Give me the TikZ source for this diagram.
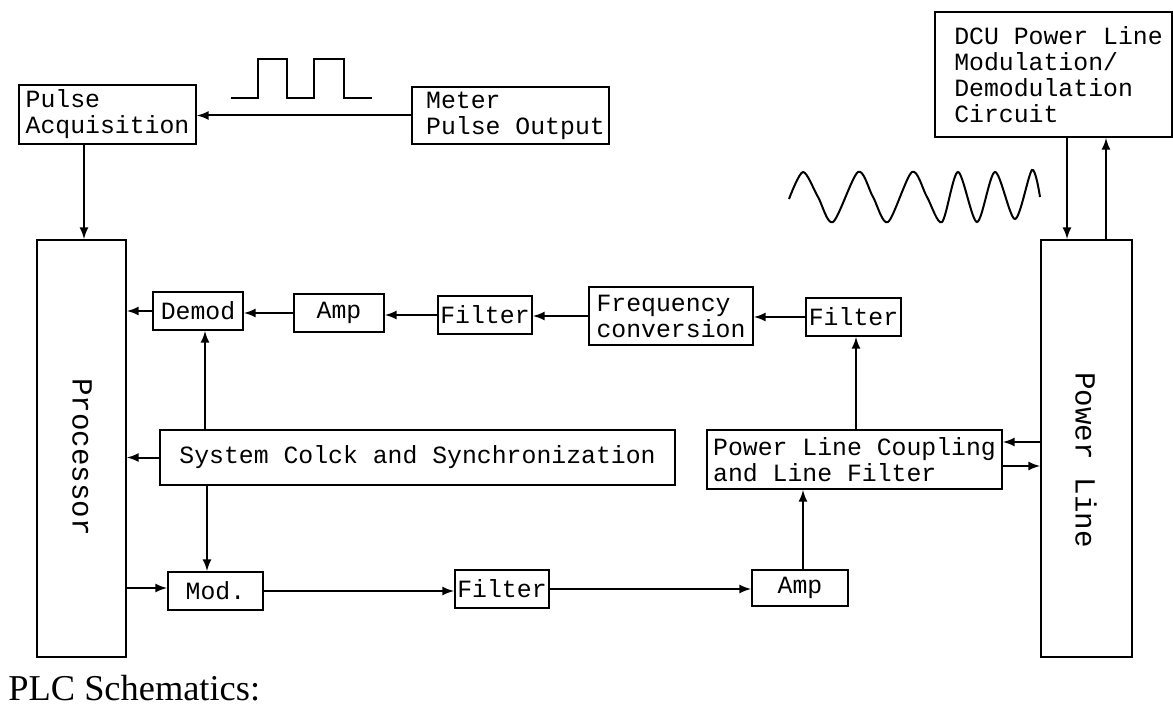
\documentclass[tikz,border=0pt]{standalone}
\usepackage{fontspec}
\setmainfont{Liberation Serif}
\newfontfamily\boxfont{Liberation Mono}
\tikzstyle{plc-box} = [draw=black, line width=1pt, rectangle, inner sep=0pt,
    align=left, font=\boxfont\fontsize{12.4}{13}\selectfont]
\tikzstyle{plc-side} = [font=\boxfont\fontsize{14.6}{15}\selectfont, rotate=-90]
\tikzstyle{plc-link} = [draw=black, line width=1pt, -latex]
\tikzstyle{plc-wave} = [draw=black, line width=1pt]
\newcommand{\nudge}{\hspace*{5pt}}

\begin{document}
\begin{tikzpicture}[x=0.5pt,y=-0.5pt]
\useasboundingbox (0,0) rectangle (1173,706);
% top row
\node [plc-box,minimum width=88.5pt,minimum height=29.5pt] (acq) at (107.5,114.5) {Pulse\\Acquisition};
\node [plc-box,minimum width=98.5pt,minimum height=28.5pt] (meter) at (510.5,115.5) {\nudge Meter\\\nudge Pulse Output};
\node [plc-box,minimum width=118.5pt,minimum height=62.5pt] (dcu) at (1053.5,74.5) {\nudge DCU Power Line\\\nudge Modulation/\\\nudge Demodulation\\\nudge Circuit};
% tall blocks
\node [plc-box,minimum width=44.5pt,minimum height=208.5pt] (proc) at (81.5,448.5) {};
\node [plc-box,minimum width=45.5pt,minimum height=208.5pt] (line) at (1086.5,448.5) {};
\node [plc-side] (proctext) at (82,457) {Processor};
\node [plc-side] (linetext) at (1086,460) {Power Line};
% receive path
\node [plc-box,minimum width=45pt,minimum height=19pt] (demod) at (198,311) {Demod};
\node [plc-box,minimum width=45pt,minimum height=19pt] (rxamp) at (339,313) {Amp};
\node [plc-box,minimum width=47pt,minimum height=19pt] (rxfilter) at (485,315) {Filter};
\node [plc-box,minimum width=82pt,minimum height=29pt] (freq) at (671,316) {Frequency\\conversion};
\node [plc-box,minimum width=47.5pt,minimum height=19pt] (linefilter) at (853.5,317) {Filter};
% middle row
\node [plc-box,minimum width=257.5pt,minimum height=27.5pt] (clock) at (417.5,457.5) {System Colck and Synchronization};
\node [plc-box,minimum width=147.5pt,minimum height=29.5pt] (coupling) at (854.5,459.5) {Power Line Coupling\\and Line Filter};
% transmit path
\node [plc-box,minimum width=47.5pt,minimum height=19pt] (mod) at (215.5,591) {Mod.};
\node [plc-box,minimum width=47pt,minimum height=19pt] (txfilter) at (502,589) {Filter};
\node [plc-box,minimum width=48pt,minimum height=18pt] (txamp) at (800,588) {Amp};
\node [anchor=west,inner sep=0pt,font=\fontsize{18.2}{19}\selectfont] (caption) at (8,688) {PLC Schematics:};
% free ends
\coordinate (acqout) at (84,144);
\coordinate (dcudown) at (1067,137);
\coordinate (dcuup) at (1106,240);
\coordinate (clockup) at (205,430);
\coordinate (clockdown) at (207,485);
\coordinate (procout) at (126,588);
\coordinate (couplingup) at (856,430);
\coordinate (couplingin) at (1041,442);
\coordinate (couplingout) at (1002,466);
\coordinate (ampup) at (803,570);
% links
\draw [plc-link] (meter.west) -- (meter.west -| acq.east);
\draw [plc-link] (acqout) -- (acqout |- proc.north);
\draw [plc-link] (dcudown) -- (dcudown |- line.north);
\draw [plc-link] (dcuup) -- (dcuup |- dcu.south);
\draw [plc-link] (linefilter.west) -- (linefilter.west -| freq.east);
\draw [plc-link] (freq.west) -- (freq.west -| rxfilter.east);
\draw [plc-link] (rxfilter.west) -- (rxfilter.west -| rxamp.east);
\draw [plc-link] (rxamp.west) -- (rxamp.west -| demod.east);
\draw [plc-link] (demod.west) -- (demod.west -| proc.east);
\draw [plc-link] (clock.west) -- (clock.west -| proc.east);
\draw [plc-link] (clockup) -- (clockup |- demod.south);
\draw [plc-link] (clockdown) -- (clockdown |- mod.north);
\draw [plc-link] (procout) -- (procout -| mod.west);
\draw [plc-link] (mod.east) -- (mod.east -| txfilter.west);
\draw [plc-link] (txfilter.east) -- (txfilter.east -| txamp.west);
\draw [plc-link] (ampup) -- (ampup |- coupling.south);
\draw [plc-link] (couplingup) -- (couplingup |- linefilter.south);
\draw [plc-link] (couplingin) -- (couplingin -| coupling.east);
\draw [plc-link] (couplingout) -- (couplingout -| line.west);
% pulse and carrier sketches
\draw [plc-wave] (231,98) -- (258,98) -- (258,59) -- (287,59) -- (287,98) -- (314,98) -- (314,59) -- (344,59) -- (344,98) -- (372,98);
\draw [plc-wave] plot[smooth] coordinates {(789,199) (803,172) (818,197) (833,222) (858,172) (873,197) (888,222) (912,172) (927,197) (942,222) (958,172) (977,222) (995,172) (1015,219) (1032,170) (1040,197)};
\end{tikzpicture}
\end{document}
